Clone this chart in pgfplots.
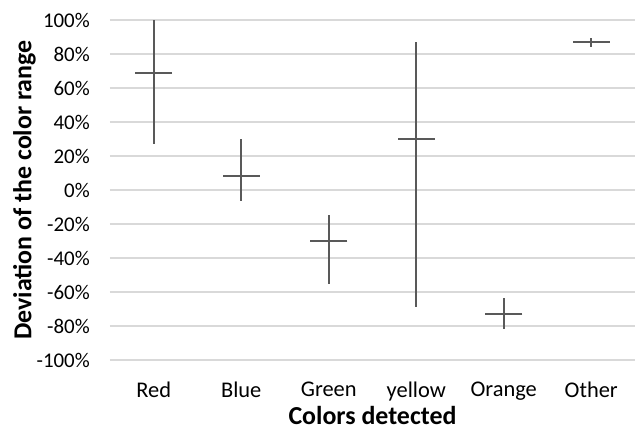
\documentclass[border=0pt]{standalone}
\usepackage{fontspec}
\setmainfont{Carlito}
\usepackage{pgfplots}
\pgfplotsset{compat=1.18}
\definecolor{barc}{HTML}{595959}
\definecolor{gridc}{HTML}{D9D9D9}
\begin{document}
\begin{tikzpicture}
\begin{axis}[
  scale only axis, width=525bp, height=340bp,
  xmin=-0.5, xmax=5.5, ymin=-100, ymax=100,
  xtick={0,1,2,3,4,5},
  xticklabels={Red,Blue,Green,yellow,Orange,Other},
  ytick={-100,-80,-60,-40,-20,0,20,40,60,80,100},
  yticklabels={-100\%,-80\%,-60\%,-40\%,-20\%,0\%,20\%,40\%,60\%,80\%,100\%},
  axis line style={draw=none},
  major tick length=0pt,
  ymajorgrids, grid style={gridc, line width=1.3bp},
  yticklabel style={font=\fontsize{21}{25}\selectfont, inner sep=0pt, anchor=east, xshift=-20bp},
  xticklabel style={font=\fontsize{22.5}{27}\selectfont, inner sep=0pt, anchor=north, yshift=-22bp},
  xlabel={Colors detected},
  ylabel={Deviation of the color range},
  label style={font=\fontsize{26}{30}\selectfont\bfseries},
  xlabel style={at={(axis description cs:0.5,-0.136)}, anchor=north, inner sep=0pt},
  ylabel style={at={(axis description cs:-0.141,0.5)}, anchor=south, inner sep=0pt},
  clip=false,
]
\addplot[barc, line width=2bp, only marks, mark=-, mark size=18.5bp,
  mark options={line width=2bp, barc},
  error bars/.cd, y dir=both, y explicit, error mark=none,
  error bar style={line width=2bp, barc}]
  table[x=x, y=y, y error plus=ep, y error minus=em] {
x y ep em
0 69 31 42
1 8.2 21.8 14.7
2 -30 15.3 25.3
3 30 56.9 99
4 -72.7 9 8.9
5 86.9 2.3 3
};
\end{axis}
\pgfresetboundingbox
\path (current axis.south west) ++(-110bp,-70bp) rectangle ([yshift=20bp]current axis.north east);
\end{tikzpicture}
\end{document}
